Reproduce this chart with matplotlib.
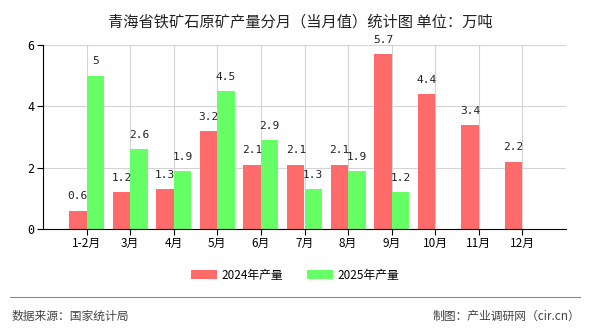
import numpy as np
import matplotlib.pyplot as plt
from matplotlib.lines import Line2D

plt.rcParams['font.family'] = ['Noto Sans CJK SC', 'DejaVu Sans']

months = ["1-2月", "3月", "4月", "5月", "6月", "7月", "8月", "9月", "10月", "11月", "12月"]
y2024 = [0.6, 1.2, 1.3, 3.2, 2.1, 2.1, 2.1, 5.7, 4.4, 3.4, 2.2]
y2025 = [5, 2.6, 1.9, 4.5, 2.9, 1.3, 1.9, 1.2]

red = "#ff6a6a"
green = "#66ff66"

fig = plt.figure(figsize=(5.9, 3.3), dpi=100)
ax = fig.add_axes([43 / 590, 1 - 229 / 330, 523 / 590, 184 / 330])

x = np.arange(1, len(months) + 1)
w = 0.4
b1 = ax.bar(x[:len(y2024)] - w / 2, y2024, w, color=red, label="2024年产量", zorder=2)
b2 = ax.bar(x[:len(y2025)] + w / 2, y2025, w, color=green, label="2025年产量", zorder=2)

# value labels above each bar
for rects, vals in ((b1, y2024), (b2, y2025)):
    for r, v in zip(rects, vals):
        ax.text(r.get_x() + r.get_width() / 2, v + 0.3, f"{v:g}", ha="center", va="bottom",
                fontsize=8, family="DejaVu Sans Mono", color="#222222", zorder=3, clip_on=False)

ax.set_xlim(0, 12)
ax.set_ylim(0, 6)
ax.set_xticks(x)
ax.set_xticklabels(months, fontsize=8.5)
ax.set_yticks([0, 2, 4, 6])
ax.set_yticklabels(["0", "2", "4", "6"], fontsize=8.5, family="DejaVu Sans Mono")

# grid at category centres and at every 2 on y
for xi in list(x) + [12]:
    ax.axvline(xi, color="#d4d4d4", lw=0.8, zorder=1)
for yi in [2, 4, 6]:
    ax.axhline(yi, color="#d4d4d4", lw=0.8, zorder=1)

for s in ["top", "right"]:
    ax.spines[s].set_visible(False)
ax.spines["left"].set_color("black")
ax.spines["bottom"].set_color("black")
ax.tick_params(axis="both", length=4, width=0.8, pad=2)

fig.text(300 / 590, 1 - 22 / 330, "青海省铁矿石原矿产量分月（当月值）统计图 单位：万吨",
         ha="center", va="center", fontsize=11, color="#222222")

fig.legend(handles=[b1, b2], loc="center", bbox_to_anchor=(0.5, 1 - 275 / 330), ncol=2,
           frameon=False, fontsize=8.5, handlelength=2.2, handleheight=0.9, columnspacing=2.0,
           handletextpad=0.4)

fig.add_artist(Line2D([10 / 590, 580 / 590], [1 - 297 / 330] * 2, color="#888888", lw=0.8))
fig.text(12 / 590, 1 - 316 / 330, "数据来源：国家统计局", ha="left", va="center", fontsize=8.5, color="#444444")
fig.text(580 / 590, 1 - 316 / 330, "制图：产业调研网（cir.cn）", ha="right", va="center", fontsize=8.5, color="#444444")

fig.savefig("out.png", dpi=100)
